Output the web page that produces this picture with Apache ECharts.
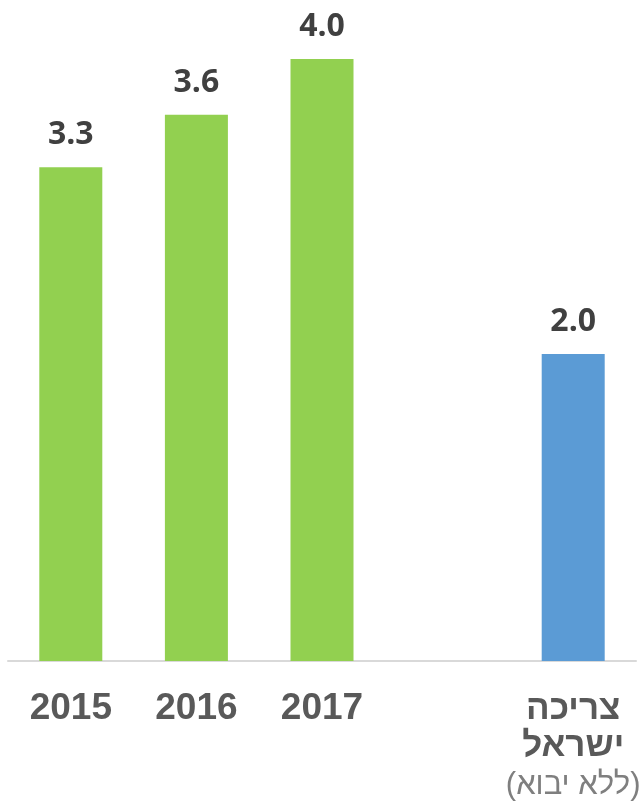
<!DOCTYPE html>
<html>
<head>
<meta charset="utf-8">
<script src="https://cdn.jsdelivr.net/npm/echarts@6/dist/echarts.min.js"></script>
<style>
  html, body { margin: 0; padding: 0; background: #fff; }
  #chart { width: 644px; height: 810px; }
</style>
</head>
<body>
<div id="chart"></div>
<script>
// categories (4th slot is an empty spacer)
const categories = ['2015', '2016', '2017', '', 'צריכה ישראל'];
const subLabels = ['', '', '', '', '(ללא יבוא)'];
// values (labels show one decimal)
const values = [3.28, 3.63, 4.0, null, 2.04];

let myChart = echarts.init(document.getElementById('chart'));

const barData = values.map((v, i) => ({
  value: v,
  itemStyle: { color: i === values.length - 1 ? '#5b9bd5' : '#92d050' }
}));

myChart.setOption({
  animation: false,
  grid: { left: 8, right: 8, top: 59, bottom: 149, containLabel: false },
  xAxis: {
    type: 'category',
    data: categories,
    axisLine: { lineStyle: { color: '#d9d9d9', width: 2 } },
    axisTick: { show: false },
    axisLabel: {
      interval: 0,
      margin: 30,
      formatter: function (val, idx) {
        if (!val) return '';
        if (subLabels[idx]) {
          // hebrew label: one word per line, then the note in brackets
          return val.split(' ').map(w => '{h|' + w + '}').join('\n') + '\n{b|' + subLabels[idx] + '}';
        }
        return '{a|' + val + '}';
      },
      rich: {
        a: { fontFamily: 'Liberation Sans', fontWeight: 'bold', fontSize: 37, lineHeight: 36, color: '#595959' },
        h: { fontFamily: 'Liberation Sans', fontWeight: 'bold', fontSize: 35, lineHeight: 37, color: '#595959' },
        b: { fontFamily: 'Liberation Sans', fontSize: 31, lineHeight: 40, color: '#7f7f7f' }
      }
    }
  },
  yAxis: {
    type: 'value',
    min: 0,
    max: 4,
    show: false
  },
  series: [{
    type: 'bar',
    barWidth: 63,
    data: barData,
    label: {
      show: true,
      position: 'top',
      distance: 16,
      formatter: p => p.value == null ? '' : p.value.toFixed(1),
      fontFamily: 'Open Sans',
      fontWeight: 'bold',
      fontSize: 32,
      color: '#404040'
    }
  }]
});
</script>
</body>
</html>
